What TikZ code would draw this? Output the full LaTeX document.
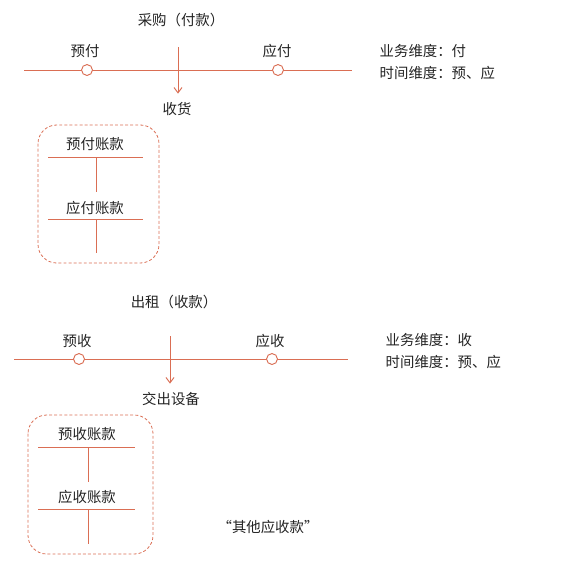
\documentclass[tikz,border=0pt]{standalone}
\usepackage{fontspec}
\setmainfont{Noto Sans CJK SC}
\usepackage{xcolor}
\usetikzlibrary{positioning,arrows.meta}
\definecolor{acct}{RGB}{218,110,84}
\definecolor{ink}{RGB}{35,35,35}

\begin{document}
\begin{tikzpicture}[x=0.75pt,y=-0.75pt,font=\fontsize{10.8}{12}\selectfont,text=ink]
        \tikzset{timeline/.style={draw=acct,line width=0.7pt},
                 tick/.style={circle,draw=acct,line width=0.7pt,fill=white,inner sep=0pt,minimum size=8.2pt},
                 flow/.style={draw=acct,line width=0.7pt,-{Straight Barb[length=4pt,width=6pt]},shorten >=3pt},
                 group/.style={draw=acct,line width=0.6pt,dash pattern=on 2.2pt off 1.6pt,rounded corners=14pt},
                 ledger/.style={draw=acct,line width=0.7pt}}
        \useasboundingbox (0,0) rectangle (574,569);
        % purchase (payment)
        \node (Buy) at (181,20) {采购（付款）};
        \coordinate (Bl) at (24,70);
        \coordinate (Br) at (352,70);
        \draw[timeline] (Bl) -- (Br);
        \node[tick] (Pre) at (87,70) {};
        \node[tick] (Due) at (278,70) {};
        \node (PreT) at (85,51) {预付};
        \node (DueT) at (277,51) {应付};
        \coordinate (Bt) at (178,47);
        \node (Recv) at (177,109) {收货};
        \draw[flow] (Bt) -- (Bt |- Recv.north);
        \node[anchor=west] (BDim) at (375,51) {业务维度：付};
        \node[anchor=west] (BTim) at (375,73) {时间维度：预、应};
        \draw[group] (38,125) rectangle (159,263);
        \node (PreAcc) at (95,144) {预付账款};
        \draw[ledger] (48,157) -- (143,157) (96,157) -- (96,192);
        \node (DueAcc) at (95,208) {应付账款};
        \draw[ledger] (48,219) -- (143,219) (96,219) -- (96,253);
        % lease (receipt)
        \node (Rent) at (174,302) {出租（收款）};
        \coordinate (Rl) at (14,359);
        \coordinate (Rr) at (348,359);
        \draw[timeline] (Rl) -- (Rr);
        \node[tick] (PreR) at (79,359) {};
        \node[tick] (DueR) at (272,359) {};
        \node (PreRT) at (77,341) {预收};
        \node (DueRT) at (270,341) {应收};
        \coordinate (Rt) at (170,336);
        \node (Hand) at (171,399) {交出设备};
        \draw[flow] (Rt) -- (Rt |- Hand.north);
        \node[anchor=west] (RDim) at (381,340) {业务维度：收};
        \node[anchor=west] (RTim) at (381,362) {时间维度：预、应};
        \draw[group] (28,415) rectangle (153,554);
        \node (PreRAcc) at (87,434) {预收账款};
        \draw[ledger] (38,447) -- (135,447) (88,447) -- (88,482);
        \node (DueRAcc) at (87,497) {应收账款};
        \draw[ledger] (38,509) -- (135,509) (88,509) -- (88,544);
        \node (Other) at (268,527) {“其他应收款”};
    \end{tikzpicture}
\end{document}
